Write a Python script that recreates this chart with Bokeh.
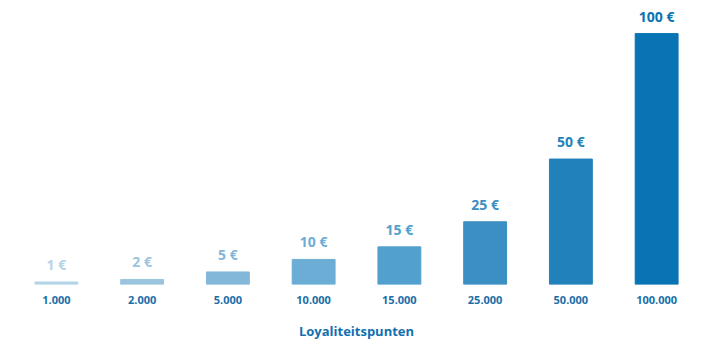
from bokeh.plotting import figure
from bokeh.models import ColumnDataSource, FactorRange, Range1d
from bokeh.embed import file_html
from bokeh.resources import INLINE
from bokeh.core.properties import value

categories = ["1.000", "2.000", "5.000", "10.000", "15.000", "25.000", "50.000", "100.000"]
euros = [1, 2, 5, 10, 15, 25, 50, 100]
labels = ["1 €", "2 €", "5 €", "10 €", "15 €", "25 €", "50 €", "100 €"]
colors = ["#b4d4e8", "#9bc4df", "#83b7da", "#6badd5", "#52a0ce", "#3b8fc3", "#2182bb", "#0874b4"]

src = ColumnDataSource(dict(cat=categories, val=euros, lab=labels, col=colors))

p = figure(width=713, height=343, x_range=FactorRange(*categories, range_padding=0),
           y_range=Range1d(0, 111.2), output_backend="svg", toolbar_location=None,
           min_border_left=13, min_border_right=14, min_border_top=5, min_border_bottom=59)
p.x_range.range_padding = 0
p.vbar(x="cat", top="val", width=0.5, color="col", source=src)
p.text(x="cat", y="val", text="lab", text_color="col", source=src,
       text_align="center", text_baseline="bottom", y_offset=-8,
       text_font=value("Open Sans"), text_font_style="bold", text_font_size="14px")

p.yaxis.visible = False
p.xgrid.visible = False
p.ygrid.visible = False
p.outline_line_color = None
ax = p.xaxis[0]
ax.axis_line_color = None
ax.major_tick_line_color = None
ax.minor_tick_line_color = None
ax.major_label_text_font = "Open Sans"
ax.major_label_text_font_style = "bold"
ax.major_label_text_font_size = "11px"
ax.major_label_text_color = "#1a6ea8"
ax.major_label_standoff = 5
ax.axis_label = "Loyaliteitspunten"
ax.axis_label_text_font = "Open Sans"
ax.axis_label_text_font_style = "bold"
ax.axis_label_text_font_size = "13px"
ax.axis_label_text_color = "#1170b0"
ax.axis_label_standoff = 15

open("out.html", "w").write(file_html(p, INLINE))
